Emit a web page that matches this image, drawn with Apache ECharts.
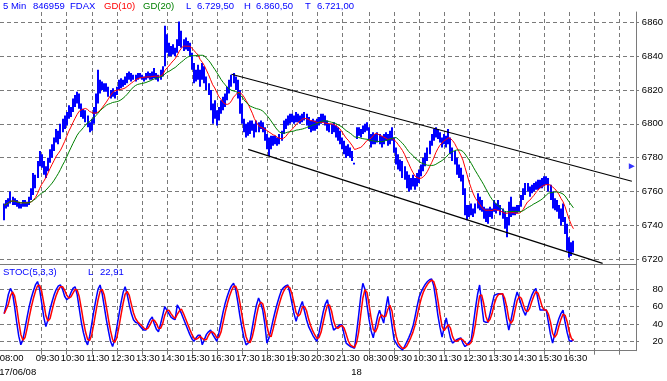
<!DOCTYPE html>
<html><head><meta charset="utf-8">
<script src="https://cdn.jsdelivr.net/npm/echarts@6/dist/echarts.min.js"></script>
<style>html,body{margin:0;padding:0;background:#fff}#c{width:667px;height:381px}</style>
</head><body><div id="c"></div>
<script>
// ---------- data (5-minute bars, FDAX) ----------
const day1Low = [
6743,6750,6751,6753,6752,6752,6751,6750,6750,6751,
6751,6751,6752,6755,6758,6762,6768,6775,6774,6770,
6768,6772,6777,6780,6784,6789,6788,6791,6795,6797,
6799,6803,6804,6807,6810,6812,6809,6804,6803,6801,
6798,6795,6796,6800,6806,6812,6818,6820,6819,6819,
6816,6815,6816,6815,6817,6820,6821,6822,6823,6824,
6826,6825,6826,6825,6826,6827,6826,6825,6826,6827,
6826,6826,6827,6826,6825,6826,6828,6834,6842,6840,
6840,6841,6840,6842,6846,6845,6843,6844,6843,6840,
6832,6824,6825,6826,6822,6826,6824,6820,6817,6808,
6800,6803,6799,6802,6806,6808,6810,6814,6818,6822,
6824,6820,6815,6806,6800,6795,6792,6793,6794,6796,
6792,6795,6795,6797,6795,6790,6785,6781,6785,6787,
6788,6787,6788,6790,6794,6797,6799,6800,6801,6800,
6801,6801,6800,6801,6802,6799,6797,6795,6796,6796,
6797,6799,6800,6801,6799,6796,6795,6794,6795,6792,
6790,6788,6785,6782,6780,6781,6780,6778,6776];
const day1High = [
6753,6755,6756,6760,6757,6756,6755,6754,6753,6755,
6755,6754,6757,6762,6771,6770,6778,6784,6782,6778,
6775,6780,6785,6788,6792,6797,6796,6800,6803,6805,
6807,6811,6810,6815,6817,6819,6818,6812,6809,6808,
6805,6801,6803,6810,6818,6832,6826,6825,6824,6824,
6822,6820,6821,6819,6822,6826,6827,6826,6828,6830,
6831,6830,6829,6829,6830,6830,6829,6828,6830,6831,
6830,6831,6833,6830,6829,6832,6834,6858,6853,6848,
6846,6847,6845,6850,6860.5,6855,6850,6851,6849,6848,
6842,6836,6832,6835,6832,6836,6834,6828,6824,6820,
6812,6814,6808,6810,6814,6816,6818,6822,6826,6829,
6830,6828,6826,6820,6812,6803,6800,6801,6802,6802,
6800,6802,6801,6802,6801,6798,6794,6792,6793,6793,
6793,6792,6794,6796,6802,6803,6805,6806,6806,6805,
6807,6806,6805,6806,6807,6806,6804,6802,6803,6802,
6803,6804,6806,6806,6805,6802,6800,6800,6801,6799,
6798,6796,6792,6790,6787,6788,6786,6784,6777];
const day1Close = [
6752,6753,6755,6757,6755,6754,6752,6751,6751,6754,
6752,6753,6756,6761,6766,6769,6776,6780,6776,6772,
6774,6779,6783,6786,6790,6794,6792,6798,6801,6799,
6805,6809,6807,6813,6815,6817,6811,6806,6805,6803,
6799,6797,6802,6808,6816,6822,6822,6821,6822,6820,
6818,6817,6819,6817,6821,6824,6825,6824,6827,6829,
6828,6827,6828,6826,6829,6828,6827,6826,6829,6830,
6827,6830,6829,6827,6828,6831,6833,6850,6845,6842,
6843,6844,6842,6848,6852,6848,6846,6849,6845,6841,
6834,6828,6830,6833,6826,6832,6826,6822,6819,6811,
6804,6809,6803,6808,6811,6814,6816,6820,6824,6827,
6826,6822,6817,6808,6802,6797,6795,6799,6797,6800,
6794,6800,6797,6800,6796,6791,6787,6790,6789,6791,
6790,6789,6793,6795,6800,6801,6803,6804,6802,6803,
6805,6803,6802,6805,6804,6800,6798,6797,6801,6798,
6801,6802,6804,6803,6800,6798,6797,6796,6797,6793,
6792,6790,6787,6784,6782,6785,6781,6779,6776];
const day2Low = [
6791,6793,6792,6794,6795,6796,6790,6786,6788,6788,
6789,6788,6786,6788,6790,6787,6788,6790,6783,6776,
6773,6772,6768,6767,6762,6760,6761,6763,6761,6763,
6765,6769,6772,6775,6778,6782,6787,6790,6792,6791,
6789,6786,6788,6786,6788,6782,6778,6776,6770,6768,
6766,6758,6746,6743,6745,6746,6745,6747,6750,6749,
6748,6744,6742,6741,6745,6744,6748,6747,6749,6746,
6744,6738,6733,6740,6745,6746,6746,6747,6748,6751,
6755,6758,6760,6757,6759,6760,6761,6761,6762,6762,
6763,6764,6760,6755,6750,6749,6748,6744,6740,6742,
6735,6725,6721,6722,6724];
const day2High = [
6798,6798,6797,6799,6800,6801,6798,6794,6795,6794,
6795,6794,6793,6794,6795,6794,6796,6798,6792,6786,
6782,6779,6778,6775,6772,6770,6768,6770,6768,6771,
6773,6776,6780,6783,6786,6790,6794,6797,6798,6797,
6795,6792,6794,6793,6797,6792,6786,6784,6780,6776,
6774,6770,6762,6752,6752,6753,6750,6753,6759,6757,
6755,6751,6750,6750,6751,6750,6755,6753,6755,6752,
6750,6748,6745,6754,6757,6751,6751,6752,6752,6758,
6762,6765,6765,6763,6764,6765,6766,6767,6767,6768,
6769,6769,6768,6764,6760,6756,6755,6752,6750,6753,
6745,6741,6733,6730,6731];
const day2Close = [
6796,6797,6794,6798,6799,6797,6791,6789,6793,6790,
6793,6790,6788,6792,6793,6789,6794,6792,6785,6778,
6776,6774,6770,6769,6764,6763,6766,6768,6764,6769,
6771,6775,6778,6782,6784,6788,6792,6795,6796,6793,
6791,6788,6792,6789,6794,6784,6780,6778,6772,6770,
6767,6760,6749,6746,6749,6748,6747,6752,6755,6752,
6750,6746,6744,6747,6749,6746,6753,6749,6752,6748,
6745,6740,6742,6751,6748,6749,6748,6750,6751,6757,
6760,6763,6762,6760,6763,6763,6765,6764,6766,6765,
6767,6766,6762,6757,6752,6753,6750,6746,6742,6745,
6737,6727,6725,6726,6729.5];
// STOC(5,3,3) %K
const day1StochK = [
52,62,74,81,76,60,42,26,16,22,
35,48,60,70,78,85,89,80,64,48,
37,45,57,66,74,80,84,85,80,72,
68,70,76,81,83,74,58,42,30,21,
16,26,40,55,68,80,85,75,60,45,
32,20,14,22,36,50,64,76,83,74,
62,52,45,42,41,38,35,33,33,40,
45,48,40,34,31,40,50,60,56,52,
48,46,45,62,58,52,46,40,34,28,
23,20,24,27,27,16,22,28,31,33,
28,24,20,30,42,54,64,72,79,84,
87,80,66,50,36,24,16,18,22,36,
50,62,70,64,56,40,18,24,34,45,
55,64,72,79,82,84,85,76,64,52,
43,52,60,66,55,45,37,32,27,23,
20,30,42,54,63,68,55,42,33,35,
37,39,39,28,18,16,14,13,12];
const day2StochK = [
30,50,72,87,80,62,45,32,24,36,
48,56,48,41,58,72,55,38,22,18,
14,12,10,14,19,24,30,37,48,60,
71,77,82,86,89,91,92,84,68,50,
36,25,36,47,35,24,18,20,22,23,
24,18,14,16,19,22,40,58,74,85,
62,43,42,42,52,63,73,74,75,75,
75,60,45,33,44,56,68,77,70,62,
55,50,58,66,73,78,81,68,56,56,
56,56,42,28,18,28,38,46,52,56,
42,30,21,20,22];

const dayLabels = ['17/06/08', '18'];
const priceTicks = [6720, 6740, 6760, 6780, 6800, 6820, 6840, 6860];
const stochTicks = [20, 40, 60, 80];
// channel trend lines: [bar index, price]
const upperTrend = [[111, 6829.3], [303, 6766.1]];
const lowerTrend = [[119, 6784.9], [289, 6717.6]];
const lastMarker = [[303, 6775]];

// ---------- derived ----------
function sessionTimes(n) {
  const out = [];
  for (let k = 0; k < n; k++) {
    const m = 8 * 60 + 5 * k;
    out.push(String(Math.floor(m / 60)).padStart(2, '0') + ':' + String(m % 60).padStart(2, '0'));
  }
  return out;
}
const preOpen = ['07:50', '07:55'];
const cats = preOpen.concat(sessionTimes(169), sessionTimes(135));
const lows = day1Low.concat(day2Low);
const highs = day1High.concat(day2High);
const closes = day1Close.concat(day2Close);
const stochK = day1StochK.concat(day2StochK);
const pad = preOpen.map(() => '-');
const firstBar = preOpen.length;
const day2Start = firstBar + day1Close.length;
const lastBar = firstBar + closes.length - 1;

function sma(arr, n) {
  return arr.map((v, i) => {
    const s = Math.max(0, i - n + 1); let t = 0;
    for (let j = s; j <= i; j++) t += arr[j];
    return +(t / (i - s + 1)).toFixed(2);
  });
}
const stochD = sma(stochK, 3);
const ma10 = sma(closes, 10);
const ma20 = sma(closes, 20);

const FONT = 'Liberation Sans';
const GRIDC = '#7a7a7a';
const isTick = (i) => i > firstBar + 6 && cats[i] && cats[i].slice(3) === '30';
const isLabel = (i) => i === firstBar || (isTick(i) && i <= lastBar);

const headerItems = [
  ['5 Min', 3, '#0000ff'], ['846959', 33, '#0000ff'], ['FDAX', 70, '#0000ff'],
  ['GD(10)', 104, '#ff0000'], ['GD(20)', 143, '#008000'],
  ['L', 186, '#0000ff'], ['6.729,50', 197, '#0000ff'],
  ['H', 244, '#0000ff'], ['6.860,50', 256, '#0000ff'],
  ['T', 305, '#0000ff'], ['6.721,00', 317, '#0000ff']
];
const stochHeader = [['STOC(5,3,3)', 3, '#0000ff'], ['L', 88, '#0000ff'], ['22,91', 100, '#0000ff']];
const titles = headerItems.map(h => ({ text: h[0], left: h[1], top: 1, padding: 0,
  textStyle: { color: h[2], fontSize: 9.5, fontWeight: 'normal', fontFamily: FONT } }))
 .concat(stochHeader.map(h => ({ text: h[0], left: h[1], top: 267, padding: 0,
  textStyle: { color: h[2], fontSize: 9.5, fontWeight: 'normal', fontFamily: FONT } })));

const dashed = { show: true, lineStyle: { color: GRIDC, type: [4, 3], width: 1 } };
const barData = lows.map((l, i) => [firstBar + i, l, highs[i]]);

const chart = echarts.init(document.getElementById('c'), null, { renderer: 'canvas' });
chart.setOption({
  animation: false,
  backgroundColor: '#fff',
  title: titles,
  grid: [
    { left: 0, right: 31, top: 12, bottom: 117, containLabel: false, outerBoundsMode: 'none' },
    { left: 0, right: 31, top: 264, bottom: 30.3, containLabel: false, outerBoundsMode: 'none' }
  ],
  xAxis: [
    { gridIndex: 0, type: 'category', data: cats, boundaryGap: false,
      axisLine: { show: true, onZero: false, lineStyle: { color: GRIDC } },
      axisTick: { show: false }, axisLabel: { show: false },
      splitLine: { show: true, interval: (i) => isTick(i), lineStyle: dashed.lineStyle } },
    { gridIndex: 1, type: 'category', data: cats, boundaryGap: false,
      axisLine: { show: true, onZero: false, lineStyle: { color: GRIDC } },
      axisTick: { show: true, length: 4, interval: (i) => isTick(i), lineStyle: { color: GRIDC } },
      axisLabel: { show: true, interval: (i) => isLabel(i), margin: 3, hideOverlap: false,
        color: '#000', fontSize: 9.5, fontFamily: FONT,
        formatter: (v, i) => (i === firstBar ? '{a|' + v + '}' : '{t|' + v + '}'),
        rich: { a: { padding: [0, 0, 0, 15], fontSize: 9.5, fontFamily: FONT, color: '#000' },
                t: { padding: [0, 0, 0, 12], fontSize: 9.5, fontFamily: FONT, color: '#000' } } },
      splitLine: { show: true, interval: (i) => isTick(i), lineStyle: dashed.lineStyle } },
    { gridIndex: 1, type: 'category', data: cats, boundaryGap: false, position: 'bottom', offset: 14,
      axisLine: { show: false }, axisTick: { show: false }, splitLine: { show: false },
      axisLabel: { show: true, interval: (i) => i === firstBar || i === day2Start, margin: 3, hideOverlap: false,
        formatter: (v, i) => (i === firstBar ? '{a|' + dayLabels[0] + '}' : '{b|' + dayLabels[1] + '}'),
        rich: { a: { padding: [0, 0, 0, 27], fontSize: 9.5, fontFamily: FONT, color: '#000' },
                b: { fontSize: 9.5, fontFamily: FONT, color: '#000' } } } }
  ],
  yAxis: [
    { gridIndex: 0, type: 'value', position: 'right', min: 6717.2, max: 6866.1, splitNumber: 7, scale: true,
      axisLine: { show: true, lineStyle: { color: GRIDC } },
      axisTick: { show: true, length: 3, customValues: priceTicks, lineStyle: { color: GRIDC } },
      axisLabel: { customValues: priceTicks, align: 'right', margin: 27, color: '#000', fontSize: 9.5,
        fontFamily: FONT, formatter: (v) => String(v) },
      splitLine: dashed },
    { gridIndex: 1, type: 'value', position: 'right', min: 9.2, max: 109.2, splitNumber: 5,
      axisLine: { show: true, lineStyle: { color: GRIDC } },
      axisTick: { show: true, length: 3, customValues: stochTicks, lineStyle: { color: GRIDC } },
      axisLabel: { customValues: stochTicks, align: 'right', margin: 27, color: '#000', fontSize: 9.5,
        fontFamily: FONT, formatter: (v) => String(v) },
      splitLine: dashed }
  ],
  series: [
    { type: 'custom', xAxisIndex: 0, yAxisIndex: 0, data: barData, encode: { x: 0, y: [1, 2] },
      renderItem: (params, api) => {
        const lo = api.coord([api.value(0), api.value(1)]);
        const hi = api.coord([api.value(0), api.value(2)]);
        return { type: 'rect',
          shape: { x: Math.round(lo[0]) - 1, y: hi[1], width: 2, height: Math.max(1, lo[1] - hi[1]) },
          style: { fill: '#0000ff' } };
      } },
    { type: 'line', xAxisIndex: 0, yAxisIndex: 0, data: pad.concat(ma10), symbol: 'none',
      lineStyle: { color: '#ff0000', width: 1 } },
    { type: 'line', xAxisIndex: 0, yAxisIndex: 0, data: pad.concat(ma20), symbol: 'none',
      lineStyle: { color: '#008000', width: 1 } },
    { type: 'line', xAxisIndex: 0, yAxisIndex: 0, data: upperTrend, symbol: 'none',
      lineStyle: { color: '#000', width: 1.2 } },
    { type: 'line', xAxisIndex: 0, yAxisIndex: 0, data: lowerTrend, symbol: 'none',
      lineStyle: { color: '#000', width: 1.2 } },
    { type: 'scatter', xAxisIndex: 0, yAxisIndex: 0, data: lastMarker, symbol: 'triangle',
      symbolRotate: -90, symbolSize: 6, itemStyle: { color: '#0000ff' } },
    { type: 'line', xAxisIndex: 1, yAxisIndex: 1, data: pad.concat(stochK), symbol: 'none',
      lineStyle: { color: '#0000ff', width: 1.5 } },
    { type: 'line', xAxisIndex: 1, yAxisIndex: 1, data: pad.concat(stochD), symbol: 'none',
      lineStyle: { color: '#ff0000', width: 1.5 } }
  ]
});
</script></body></html>
